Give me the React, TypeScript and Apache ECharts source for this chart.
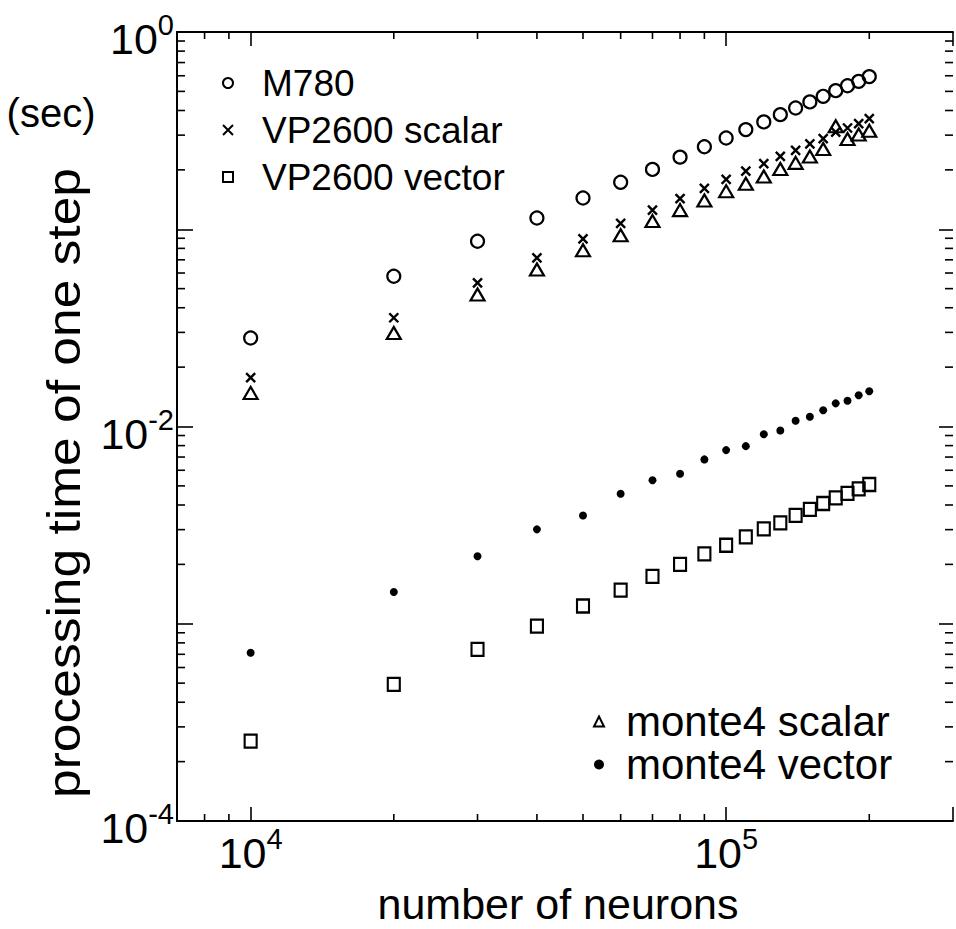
import React, { useEffect, useRef } from 'react';
import * as echarts from 'echarts';

// ---- data ----
const neurons = [
  10000, 20000, 30000, 40000, 50000, 60000, 70000, 80000, 90000, 100000,
  110000, 120000, 130000, 140000, 150000, 160000, 170000, 180000, 190000, 200000,
];
const m780 = [0.0281, 0.0578, 0.0869, 0.114, 0.144, 0.173, 0.201, 0.232, 0.262, 0.29, 0.32, 0.35, 0.381, 0.412, 0.442, 0.472, 0.504, 0.534, 0.562, 0.594];
const vp2600Scalar = [0.0177, 0.0356, 0.0535, 0.0716, 0.0894, 0.107, 0.125, 0.143, 0.161, 0.179, 0.197, 0.215, 0.234, 0.251, 0.271, 0.288, 0.311, 0.326, 0.343, 0.364];
const vp2600Vector = [0.000254, 0.000493, 0.000741, 0.000973, 0.00123, 0.00148, 0.00174, 0.002, 0.00226, 0.0025, 0.00276, 0.00303, 0.00325, 0.00354, 0.0038, 0.00407, 0.00435, 0.00458, 0.00483, 0.00508];
const monte4Scalar = [0.0148, 0.0298, 0.0467, 0.0625, 0.0782, 0.0932, 0.11, 0.125, 0.14, 0.156, 0.17, 0.185, 0.202, 0.217, 0.234, 0.255, 0.333, 0.287, 0.302, 0.316];
const monte4Vector = [0.000713, 0.00145, 0.0022, 0.00301, 0.00354, 0.00456, 0.00534, 0.00576, 0.00681, 0.00759, 0.00795, 0.00914, 0.00954, 0.0107, 0.0112, 0.0121, 0.0131, 0.0135, 0.0144, 0.0151];

const seriesNamesTop = ['M780', 'VP2600 scalar', 'VP2600 vector'];
const seriesNamesBottom = ['monte4 scalar', 'monte4 vector'];

// tick labels: value -> exponent text
const xTickValues = [10000, 100000];
const xTickExponents = ['4', '5'];
const yTickValues = [1, 0.01, 0.0001];
const yTickExponents = ['0', '-2', '-4'];

// minor tick positions
const xMinorTicks = [8000, 9000, 20000, 30000, 40000, 50000, 60000, 70000, 80000, 90000, 200000];
const yMinorTicks = [
  0.0002, 0.0003, 0.0004, 0.0005, 0.0006, 0.0007, 0.0008, 0.0009,
  0.002, 0.003, 0.004, 0.005, 0.006, 0.007, 0.008, 0.009,
  0.02, 0.03, 0.04, 0.05, 0.06, 0.07, 0.08, 0.09,
  0.2, 0.3, 0.4, 0.5, 0.6, 0.7, 0.8, 0.9,
];

const X_MIN = 7000;
const X_MAX = 300000;
const Y_MIN = 0.0001;
const Y_MAX = 1;

const FONT = '"Liberation Sans", Arial, Helvetica, sans-serif';
const CROSS = 'path://M0,0L10,10M10,0L0,10';
const HOLLOW = 'rgba(255,255,255,0)';

function findExp(v: number, values: number[], exps: string[]): string | null {
  for (let i = 0; i < values.length; i++) {
    if (Math.abs(Math.log10(v) - Math.log10(values[i])) < 1e-6) return exps[i];
  }
  return null;
}

const richLabel = {
  b: { fontSize: 43, lineHeight: 43, padding: [14, 0, 0, 0], fontFamily: FONT, color: '#000' },
  s: { fontSize: 29, lineHeight: 29, verticalAlign: 'top', fontFamily: FONT, color: '#000' },
};

export default function App() {
  const ref = useRef<HTMLDivElement>(null);

  useEffect(() => {
    if (!ref.current) return;
    const chart = echarts.init(ref.current, undefined, { renderer: 'svg' });

    const axisLineStyle = { color: '#000', width: 2 };
    const tickStyle = { color: '#000', width: 1.6 };

    const option: any = {
      animation: false,
      backgroundColor: '#fff',
      textStyle: { fontFamily: FONT, color: '#000' },
      grid: { left: 177, top: 32, width: 784, height: 789, containLabel: false },
      xAxis: [
        {
          type: 'log', logBase: 10, min: X_MIN, max: X_MAX, position: 'bottom',
          axisLine: { show: true, lineStyle: axisLineStyle },
          axisTick: { show: true, inside: true, length: 14, lineStyle: tickStyle },
          splitLine: { show: false },
          minorTick: { show: false },
          axisLabel: {
            show: true, margin: 3, showMinLabel: true, showMaxLabel: true,
            formatter: (v: number) => {
              const e = findExp(v, xTickValues, xTickExponents);
              return e === null ? '' : `{b|10}{s|${e}}`;
            },
            rich: richLabel,
          },
        },
        {
          type: 'log', logBase: 10, min: X_MIN, max: X_MAX, position: 'top',
          axisLine: { show: true, lineStyle: axisLineStyle },
          axisTick: { show: true, inside: true, length: 14, lineStyle: tickStyle },
          splitLine: { show: false },
          axisLabel: { show: false },
        },
      ],
      yAxis: [
        {
          type: 'log', logBase: 10, min: Y_MIN, max: Y_MAX, position: 'left',
          axisLine: { show: true, lineStyle: axisLineStyle },
          axisTick: { show: true, inside: true, length: 16, lineStyle: tickStyle },
          splitLine: { show: false },
          axisLabel: {
            show: true, margin: 3, showMinLabel: true, showMaxLabel: true,
            formatter: (v: number) => {
              const e = findExp(v, yTickValues, yTickExponents);
              return e === null ? '' : `{b|10}{s|${e}}`;
            },
            rich: richLabel,
          },
        },
        {
          type: 'log', logBase: 10, min: Y_MIN, max: Y_MAX, position: 'right',
          axisLine: { show: false },
          axisTick: { show: true, inside: true, length: 14, lineStyle: tickStyle },
          splitLine: { show: false },
          axisLabel: { show: false },
        },
      ],
      legend: [
        {
          data: seriesNamesTop,
          orient: 'vertical',
          left: 222, top: 61,
          padding: 0,
          itemGap: 3,
          itemWidth: 10, itemHeight: 10,
          selectedMode: false,
          textStyle: { fontSize: 37, lineHeight: 44, color: '#000', fontFamily: FONT, padding: [0, 0, 0, 24] },
        },
        {
          data: seriesNamesBottom,
          orient: 'vertical',
          left: 593, top: 700,
          padding: 0,
          itemGap: 0,
          itemWidth: 10, itemHeight: 10,
          selectedMode: false,
          textStyle: { fontSize: 42, lineHeight: 43, color: '#000', fontFamily: FONT, padding: [0, 0, 0, 17] },
        },
      ],
      graphic: [
        {
          type: 'text', x: 51, y: 113, silent: true,
          style: { text: '(sec)', fontSize: 40, fontFamily: FONT, fill: '#000', align: 'center', verticalAlign: 'middle' },
        },
        {
          type: 'text', x: 64, y: 483, rotation: Math.PI / 2, scaleX: 1.12, silent: true,
          style: { text: 'processing time of one step', fontSize: 46, fontFamily: FONT, fill: '#000', align: 'center', verticalAlign: 'middle' },
        },
        {
          type: 'text', x: 558, y: 904, silent: true,
          style: { text: 'number of neurons', fontSize: 43, fontFamily: FONT, fill: '#000', align: 'center', verticalAlign: 'middle' },
        },
      ],
      series: [
        {
          name: 'M780', type: 'scatter', symbol: 'circle', symbolSize: 13,
          data: neurons.map((x, i) => [x, m780[i]]),
          itemStyle: { color: HOLLOW, borderColor: '#000', borderWidth: 2.2, opacity: 1 },
        },
        {
          name: 'VP2600 scalar', type: 'scatter', symbol: CROSS, symbolSize: 9,
          data: neurons.map((x, i) => [x, vp2600Scalar[i]]),
          itemStyle: { color: HOLLOW, borderColor: '#000', borderWidth: 2.4, opacity: 1 },
        },
        {
          name: 'VP2600 vector', type: 'scatter', symbol: 'rect', symbolSize: [12, 13],
          data: neurons.map((x, i) => [x, vp2600Vector[i]]),
          itemStyle: { color: HOLLOW, borderColor: '#000', borderWidth: 2.2, opacity: 1 },
        },
        {
          name: 'monte4 scalar', type: 'scatter', symbol: 'triangle', symbolSize: [14, 12],
          data: neurons.map((x, i) => [x, monte4Scalar[i]]),
          itemStyle: { color: HOLLOW, borderColor: '#000', borderWidth: 2.2, opacity: 1 },
        },
        {
          name: 'monte4 vector', type: 'scatter', symbol: 'circle', symbolSize: 8,
          data: neurons.map((x, i) => [x, monte4Vector[i]]),
          itemStyle: { color: '#000', opacity: 1 },
        },
        {
          name: 'x minor ticks', type: 'custom', silent: true, clip: false,
          data: xMinorTicks.map((v) => [v, Y_MIN]),
          renderItem: (params: any, api: any) => {
            const v = api.value(0);
            const b = api.coord([v, Y_MIN]);
            const t = api.coord([v, Y_MAX]);
            return {
              type: 'group',
              children: [
                { type: 'line', shape: { x1: b[0], y1: b[1], x2: b[0], y2: b[1] - 7 }, style: { stroke: '#000', lineWidth: 1.6 } },
                { type: 'line', shape: { x1: t[0], y1: t[1], x2: t[0], y2: t[1] + 7 }, style: { stroke: '#000', lineWidth: 1.6 } },
              ],
            };
          },
        },
        {
          name: 'y minor ticks', type: 'custom', silent: true, clip: false,
          data: yMinorTicks.map((v) => [X_MIN, v]),
          renderItem: (params: any, api: any) => {
            const v = api.value(1);
            const l = api.coord([X_MIN, v]);
            const r = api.coord([X_MAX, v]);
            return {
              type: 'group',
              children: [
                { type: 'line', shape: { x1: l[0], y1: l[1], x2: l[0] + 8, y2: l[1] }, style: { stroke: '#000', lineWidth: 1.6 } },
                { type: 'line', shape: { x1: r[0], y1: r[1], x2: r[0] - 8, y2: r[1] }, style: { stroke: '#000', lineWidth: 1.6 } },
              ],
            };
          },
        },
      ],
    };

    chart.setOption(option);
    return () => {
      chart.dispose();
    };
  }, []);

  return (
    <div
      ref={ref}
      style={{ position: 'absolute', left: 0, top: 0, width: 956, height: 929, background: '#fff' }}
    />
  );
}
